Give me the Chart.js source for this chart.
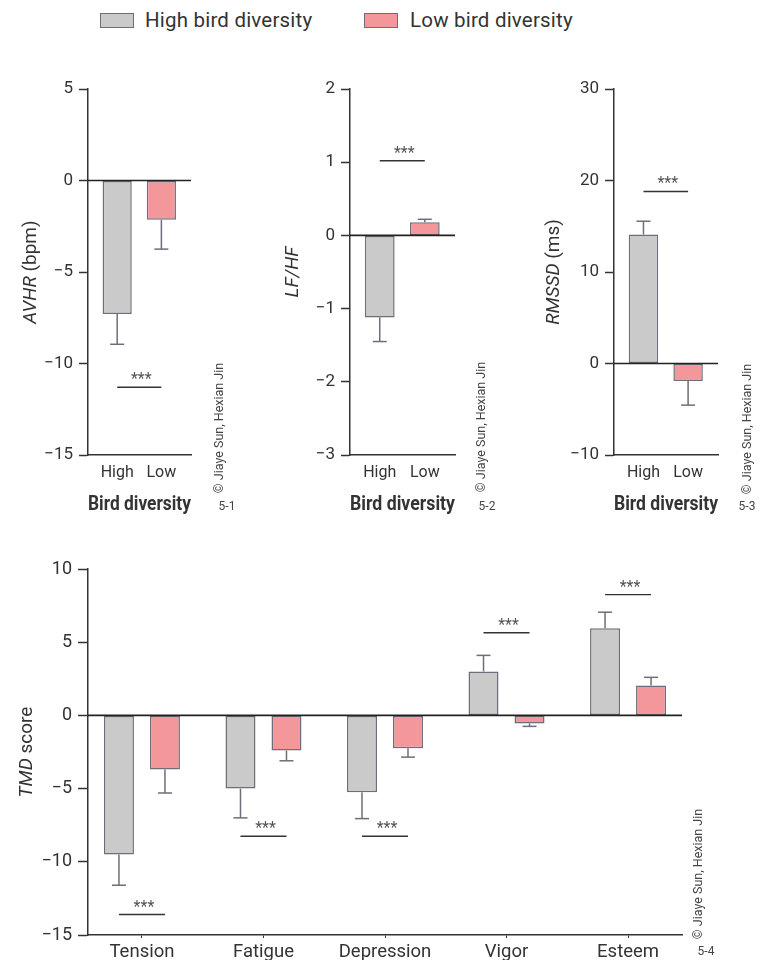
<!DOCTYPE html>
<html>
<head>
<meta charset="utf-8">
<script src="https://cdn.jsdelivr.net/npm/chart.js@4.4.1/dist/chart.umd.min.js"></script>
<style>
  body { margin: 0; width: 776px; height: 960px; background: #fff; position: relative; overflow: hidden; font-family: Roboto, sans-serif; color: #333; }
  .panel { position: absolute; }
  .sw { position: absolute; top: 13px; width: 32px; height: 13px; border: 1px solid #6e6e7a; }
  .lt { position: absolute; top: 6px; font-size: 20.5px; line-height: 28px; color: #333; letter-spacing: 0.2px; }
</style>
</head>
<body>
<span class="sw" style="left:100px;background:#cacaca"></span>
<span class="lt" style="left:145px">High bird diversity</span>
<span class="sw" style="left:364px;background:#f4979b"></span>
<span class="lt" style="left:410px">Low bird diversity</span>

<canvas class="panel" id="c1" width="260" height="460" style="left:0;top:60px"></canvas>
<canvas class="panel" id="c2" width="260" height="460" style="left:260px;top:60px"></canvas>
<canvas class="panel" id="c3" width="260" height="460" style="left:516px;top:60px"></canvas>
<canvas class="panel" id="c4" width="776" height="420" style="left:0;top:540px"></canvas>

<script>
// bird diversity groups
const groups = ["High", "Low"];

// 5-1 AVHR (bpm)
const avhrMean = [-7.3, -2.15];
const avhrSE = [1.65, 1.6];
const avhrSig = -11.3;

// 5-2 LF/HF
const lfhfMean = [-1.12, 0.18];
const lfhfSE = [0.33, 0.04];
const lfhfSig = 1.02;

// 5-3 RMSSD (ms)
const rmssdMean = [14.1, -1.9];
const rmssdSE = [1.45, 2.65];
const rmssdSig = 18.8;

// 5-4 TMD score
const moodLabels = ["Tension", "Fatigue", "Depression", "Vigor", "Esteem"];
const moodHigh = [-9.5, -5.0, -5.25, 3.0, 5.95];
const moodHighSE = [2.1, 2.0, 1.8, 1.1, 1.1];
const moodLow = [-3.7, -2.4, -2.25, -0.55, 2.05];
const moodLowSE = [1.6, 0.7, 0.6, 0.2, 0.55];
const moodSig = [-13.6, -8.25, -8.25, 5.65, 8.25];

const GRAY = "#cacaca";
const PINK = "#f4979b";
const EDGE = "#6e6e7a";
const INK = "#333";
const FONT = "Roboto, sans-serif";

const minus = (v) => (v < 0 ? "\u2212" + Math.abs(v) : "" + v);

function line(ctx, x0, y0, x1, y1) {
  ctx.beginPath();
  ctx.moveTo(x0, y0);
  ctx.lineTo(x1, y1);
  ctx.stroke();
}

const extras = {
  id: "extras",
  afterDatasetsDraw(chart, args, o) {
    const ctx = chart.ctx;
    const y = chart.scales.y;
    const a = chart.chartArea;
    ctx.save();
    // error bars, away from zero
    ctx.strokeStyle = EDGE;
    ctx.lineWidth = 1.5;
    o.errors.forEach((se, d) => {
      chart.getDatasetMeta(d).data.forEach((bar, i) => {
        const v = chart.data.datasets[d].data[i].y;
        const end = y.getPixelForValue(v + Math.sign(v) * se[i]);
        line(ctx, bar.x, bar.y, bar.x, end);
        line(ctx, bar.x - 7, end, bar.x + 7, end);
      });
    });
    // zero line
    const z = y.getPixelForValue(0);
    ctx.strokeStyle = "#222";
    ctx.lineWidth = 1.6;
    line(ctx, a.left, z, a.right, z);
    // significance marks
    ctx.strokeStyle = INK;
    ctx.lineWidth = 1.4;
    ctx.fillStyle = "#555";
    ctx.font = "16px " + FONT;
    ctx.textAlign = "center";
    ctx.textBaseline = "alphabetic";
    o.sig.forEach((s) => {
      const x0 = chart.getDatasetMeta(s.a[0]).data[s.a[1]].x;
      const x1 = chart.getDatasetMeta(s.b[0]).data[s.b[1]].x;
      const ly = y.getPixelForValue(s.v);
      line(ctx, x0, ly, x1, ly);
      ctx.fillText("***", (x0 + x1) / 2 + 2, ly - 3);
    });
    ctx.restore();
  },
  afterDraw(chart, args, o) {
    const ctx = chart.ctx;
    const a = chart.chartArea;
    ctx.save();
    // y title with italic part
    ctx.fillStyle = INK;
    ctx.textBaseline = "middle";
    ctx.textAlign = "left";
    ctx.translate(o.yTitleX, (a.top + a.bottom) / 2);
    ctx.rotate(-Math.PI / 2);
    let total = 0;
    o.yTitle.forEach((p) => {
      ctx.font = (p.i ? "italic " : "") + o.titleSize + "px " + FONT;
      total += ctx.measureText(p.t).width;
    });
    let x = -total / 2;
    o.yTitle.forEach((p) => {
      ctx.font = (p.i ? "italic " : "") + o.titleSize + "px " + FONT;
      ctx.fillText(p.t, x, 0);
      x += ctx.measureText(p.t).width;
    });
    ctx.restore();

    ctx.save();
    ctx.fillStyle = "#444";
    ctx.font = "12.5px " + FONT;
    ctx.textAlign = "center";
    ctx.textBaseline = "middle";
    ctx.translate(o.copy[0], o.copy[1]);
    ctx.rotate(-Math.PI / 2);
    ctx.fillText("\u00a9 Jiaye Sun, Hexian Jin", 0, 0);
    ctx.restore();

    ctx.save();
    ctx.fillStyle = "#444";
    ctx.font = "12px " + FONT;
    ctx.textAlign = "center";
    ctx.textBaseline = "middle";
    ctx.fillText(o.tag[0], o.tag[1], o.tag[2]);
    ctx.restore();
  },
};

function smallChart(id, mean, se, sig, yMin, yMax, step, yWidth, padRight, yTitle, titleX, copy, tag) {
  return new Chart(document.getElementById(id), {
    type: "bar",
    data: {
      datasets: [
        {
          data: mean.map((v, i) => ({ x: i, y: v })),
          backgroundColor: [GRAY, PINK],
          borderColor: EDGE,
          borderWidth: 1.5,
          borderSkipped: false,
          categoryPercentage: 1,
          barPercentage: 0.66,
        },
      ],
    },
    options: {
      responsive: false,
      animation: false,
      layout: { padding: { top: 29, right: padRight, left: 0, bottom: 0 } },
      plugins: {
        legend: { display: false },
        tooltip: { enabled: false },
        extras: {
          errors: [se],
          sig: [{ a: [0, 0], b: [0, 1], v: sig }],
          yTitle: yTitle,
          yTitleX: titleX,
          titleSize: 19,
          copy: copy,
          tag: tag,
        },
      },
      scales: {
        x: {
          type: "linear",
          min: -0.66,
          max: 1.67,
          offset: false,
          bounds: "data",
          afterBuildTicks: (s) => {
            s.ticks = groups.map((g, i) => ({ value: i }));
          },
          afterFit: (s) => {
            s.height = 65;
          },
          grid: { drawOnChartArea: false, drawTicks: false, offset: false },
          border: { color: INK, width: 1.5 },
          ticks: {
            padding: 8,
            color: INK,
            font: { family: FONT, size: 16 },
            callback: (v) => groups[v],
            maxRotation: 0,
          },
          title: {
            display: true,
            text: "Bird diversity",
            color: INK,
            font: { family: FONT, size: 20, weight: "bold" },
            padding: { top: 0, bottom: 3 },
          },
        },
        y: {
          min: yMin,
          max: yMax,
          afterFit: (s) => {
            s.width = yWidth;
          },
          grid: { drawOnChartArea: false, tickColor: INK, tickLength: 9, tickWidth: 1.5 },
          border: { color: INK, width: 1.5 },
          ticks: {
            stepSize: step,
            padding: 6,
            color: INK,
            font: { family: FONT, size: 17 },
            callback: (v) => minus(v),
          },
        },
      },
    },
    plugins: [extras],
  });
}

smallChart("c1", avhrMean, avhrSE, avhrSig, -15, 5, 5, 88, 69,
  [{ t: "AVHR", i: true }, { t: " (bpm)", i: false }], 31, [220, 368], ["5-1", 227, 447]);
smallChart("c2", lfhfMean, lfhfSE, lfhfSig, -3, 2, 1, 90, 65,
  [{ t: "LF/HF", i: true }], 33, [222, 367], ["5-2", 227, 447]);
smallChart("c3", rmssdMean, rmssdSE, rmssdSig, -10, 30, 10, 98, 58,
  [{ t: "RMSSD", i: true }, { t: " (ms)", i: false }], 38, [232, 369], ["5-3", 231, 447]);

new Chart(document.getElementById("c4"), {
  type: "bar",
  data: {
    datasets: [
      {
        label: "High bird diversity",
        data: moodHigh.map((v, i) => ({ x: i, y: v })),
        backgroundColor: GRAY,
      },
      {
        label: "Low bird diversity",
        data: moodLow.map((v, i) => ({ x: i, y: v })),
        backgroundColor: PINK,
      },
    ],
  },
  options: {
    responsive: false,
    animation: false,
    datasets: {
      bar: {
        borderColor: EDGE,
        borderWidth: 1.5,
        borderSkipped: false,
        categoryPercentage: 0.757,
        barPercentage: 0.652,
      },
    },
    layout: { padding: { top: 29, right: 94, left: 0, bottom: 0 } },
    plugins: {
      legend: { display: false },
      tooltip: { enabled: false },
      extras: {
        errors: [moodHighSE, moodLowSE],
        sig: moodSig.map((v, i) => ({ a: [0, i], b: [1, i], v: v })),
        yTitle: [{ t: "TMD", i: true }, { t: " score", i: false }],
        yTitleX: 27,
        titleSize: 19,
        copy: [699, 334],
        tag: ["5-4", 706, 412],
      },
    },
    scales: {
      x: {
        type: "linear",
        min: -0.444,
        max: 4.444,
        offset: false,
        bounds: "data",
        afterBuildTicks: (s) => {
          s.ticks = moodLabels.map((m, i) => ({ value: i }));
        },
        afterFit: (s) => {
          s.height = 25;
        },
        grid: { drawOnChartArea: false, tickColor: INK, tickLength: 3, offset: false },
        border: { color: INK, width: 1.5 },
        ticks: {
          padding: 3,
          color: INK,
          font: { family: FONT, size: 18.5 },
          callback: (v) => moodLabels[v],
          maxRotation: 0,
        },
      },
      y: {
        min: -15,
        max: 10,
        afterFit: (s) => {
          s.width = 88;
        },
        grid: { drawOnChartArea: false, tickColor: INK, tickLength: 10, tickWidth: 1.5 },
        border: { color: INK, width: 1.5 },
        ticks: {
          stepSize: 5,
          padding: 6,
          color: INK,
          font: { family: FONT, size: 18 },
          callback: (v) => minus(v),
        },
      },
    },
  },
  plugins: [extras],
});
</script>
</body>
</html>
